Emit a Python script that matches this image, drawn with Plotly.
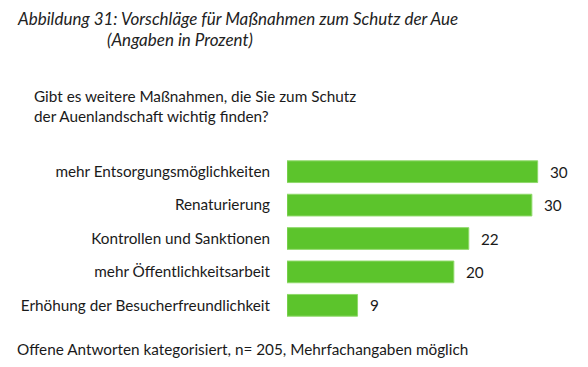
import plotly.graph_objects as go

categories = [
    "mehr Entsorgungsmöglichkeiten",
    "Renaturierung",
    "Kontrollen und Sanktionen",
    "mehr Öffentlichkeitsarbeit",
    "Erhöhung der Besucherfreundlichkeit",
]
values = [30.2, 29.5, 21.9, 20.1, 8.5]
value_labels = ["30", "30", "22", "20", "9"]

title_line1 = "Abbildung 31: Vorschläge für Maßnahmen zum Schutz der Aue"
title_line2 = "(Angaben in Prozent)"
question_line1 = "Gibt es weitere Maßnahmen, die Sie zum Schutz"
question_line2 = "der Auenlandschaft wichtig finden?"
footer = "Offene Antworten kategorisiert, n= 205, Mehrfachangaben möglich"

FONT = "Lato"
BAR = "#5cc42c"
TXT = "#1a1a1a"

# page offset (browser body margin)
OFF = 8
W, H = 572, 351
PL, PR, PT, PB = 279, 0, 147.4, 37.4

fig = go.Figure()
fig.add_trace(go.Bar(
    x=values, y=categories, orientation="h",
    marker=dict(color=BAR, line=dict(color="#8fd96a", width=1)),
    hoverinfo="skip",
))

for cat, v, lab in zip(categories, values, value_labels):
    fig.add_annotation(x=v, y=cat, xref="x", yref="y", text=lab, showarrow=False,
                       xanchor="left", xshift=10,
                       font=dict(family=FONT, size=15.3, color=TXT))

fig.update_layout(
    width=W, height=H,
    margin=dict(l=PL, r=PR, t=PT, b=PB, pad=0),
    paper_bgcolor="white", plot_bgcolor="white",
    showlegend=False, bargap=0.35,
    xaxis=dict(range=[0, 35.3], visible=False, fixedrange=True),
    yaxis=dict(autorange="reversed", showgrid=False, showline=False, ticks="",
               ticklabelstandoff=16,
               tickfont=dict(family=FONT, size=15.3, color=TXT), fixedrange=True),
)


def add_px(x, y, text, size, italic=False, color=TXT, yanchor="middle"):
    # x, y in page pixel coordinates of the reference
    x -= OFF
    y -= OFF
    pw, ph = W - PL - PR, H - PT - PB
    fig.add_annotation(
        x=(x - PL) / pw, y=(H - PB - y) / ph, xref="paper", yref="paper", text=text,
        showarrow=False, xanchor="left", yanchor=yanchor, align="left", borderpad=0,
        font=dict(family=FONT, size=size, color=color, style="italic" if italic else "normal"),
    )


add_px(16, 8, title_line1, 17, italic=True, color="#222222", yanchor="top")
add_px(106, 29, title_line2, 17, italic=True, color="#222222", yanchor="top")
add_px(33, 97, question_line1, 15.3)
add_px(33, 117, question_line2, 15.3)
add_px(16, 348, footer, 15.3)

fig.write_html("out.html")
